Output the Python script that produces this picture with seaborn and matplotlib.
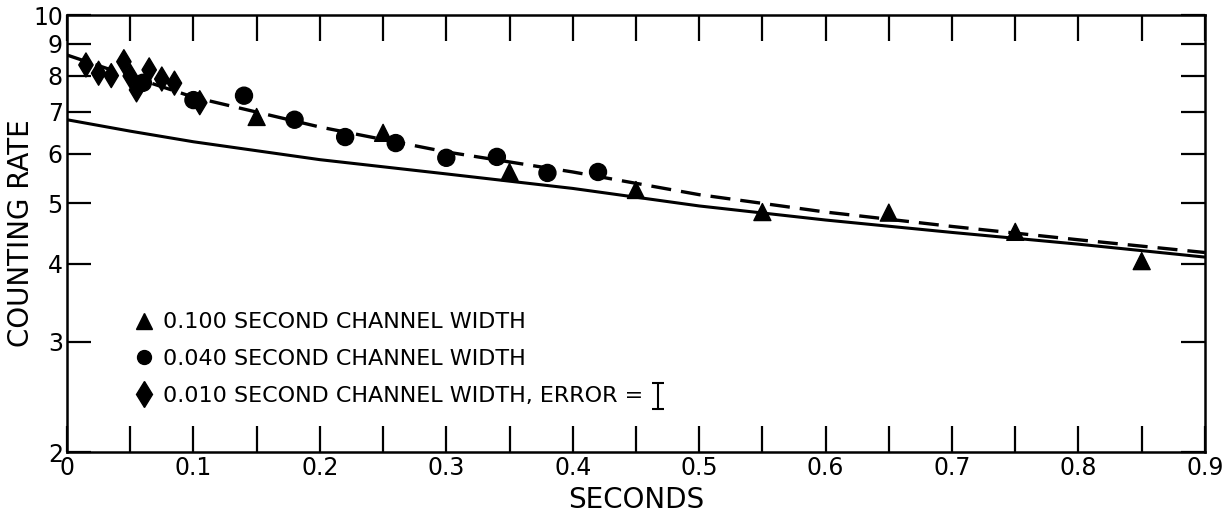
import numpy as np
import pandas as pd
import matplotlib
matplotlib.use("Agg")
import matplotlib.pyplot as plt
from matplotlib.lines import Line2D
from matplotlib.ticker import FixedLocator, NullLocator, FixedFormatter
import seaborn as sns

# ---- data ----
tri_x = [0.15, 0.25, 0.35, 0.45, 0.55, 0.65, 0.75, 0.85]
tri_y = [6.87, 6.48, 5.61, 5.25, 4.84, 4.83, 4.50, 4.04]

circ_x = [0.06, 0.10, 0.14, 0.18, 0.22, 0.26, 0.30, 0.34, 0.38, 0.42]
circ_y = [7.79, 7.31, 7.43, 6.80, 6.38, 6.24, 5.91, 5.93, 5.59, 5.61]

dia_x = [0.015, 0.025, 0.035, 0.045, 0.050, 0.055, 0.065, 0.075, 0.085, 0.105]
dia_y = [8.32, 8.07, 8.00, 8.42, 7.99, 7.59, 8.17, 7.90, 7.78, 7.24]

curve_x = [0.0, 0.05, 0.1, 0.2, 0.3, 0.4, 0.5, 0.6, 0.7, 0.8, 0.9]
dashed_y = [8.63, 7.98, 7.39, 6.62, 6.04, 5.61, 5.16, 4.84, 4.59, 4.37, 4.17]
solid_y = [6.80, 6.52, 6.27, 5.87, 5.57, 5.28, 4.95, 4.70, 4.49, 4.30, 4.10]

labels = ["0.100 SECOND CHANNEL WIDTH",
          "0.040 SECOND CHANNEL WIDTH",
          "0.010 SECOND CHANNEL WIDTH, ERROR ="]

xticks = [0.0, 0.1, 0.2, 0.3, 0.4, 0.5, 0.6, 0.7, 0.8, 0.9]
xticklabels = ["0", "0.1", "0.2", "0.3", "0.4", "0.5", "0.6", "0.7", "0.8", "0.9"]
yticks = [2, 3, 4, 5, 6, 7, 8, 9, 10]

points = pd.concat([
    pd.DataFrame({"t": tri_x, "rate": tri_y, "width": labels[0]}),
    pd.DataFrame({"t": circ_x, "rate": circ_y, "width": labels[1]}),
    pd.DataFrame({"t": dia_x, "rate": dia_y, "width": labels[2]}),
])
curves = pd.concat([
    pd.DataFrame({"t": curve_x, "rate": dashed_y, "fit": "dashed"}),
    pd.DataFrame({"t": curve_x, "rate": solid_y, "fit": "solid"}),
])

sns.set_style("ticks")
plt.rcParams["font.family"] = ["DejaVu Sans"]
plt.rcParams["text.color"] = "black"
plt.rcParams["axes.labelcolor"] = "black"
plt.rcParams["xtick.color"] = "black"
plt.rcParams["ytick.color"] = "black"
plt.rcParams["axes.edgecolor"] = "black"

fig = plt.figure(figsize=(12.27, 5.18), dpi=100)
ax = fig.add_axes([0.0546, 0.1274, 0.9274, 0.8436])

sns.lineplot(data=curves[curves.fit == "solid"], x="t", y="rate", color="black",
             lw=2.2, ax=ax)
sns.lineplot(data=curves[curves.fit == "dashed"], x="t", y="rate", color="black",
             lw=2.4, ax=ax, linestyle=(0, (6, 3)))

sns.scatterplot(data=points, x="t", y="rate", style="width",
                markers={labels[0]: "^", labels[1]: "o", labels[2]: "d"},
                color="black", edgecolor="black", s=150, legend=False, ax=ax, zorder=3)

ax.set_yscale("log")
ax.set_xlim(0, 0.9)
ax.set_ylim(2, 10)
ax.yaxis.set_major_locator(FixedLocator(yticks))
ax.yaxis.set_major_formatter(FixedFormatter([str(v) for v in yticks]))
ax.yaxis.set_minor_locator(NullLocator())
ax.xaxis.set_major_locator(FixedLocator(xticks))
ax.xaxis.set_major_formatter(FixedFormatter(xticklabels))
ax.xaxis.set_minor_locator(FixedLocator(np.arange(0.05, 0.9, 0.1)))

ax.tick_params(which="both", direction="in", top=True, right=True,
               width=1.6, labelsize=17, pad=3)
ax.tick_params(axis="x", which="both", length=19)
ax.tick_params(axis="y", which="both", length=17)
for sp in ax.spines.values():
    sp.set_linewidth(1.8)

ax.set_xlabel("SECONDS", fontsize=20)
ax.set_ylabel("COUNTING RATE", fontsize=20)
ax.xaxis.set_label_coords(0.5, -0.078)
ax.yaxis.set_label_coords(-0.028, 0.5)

handles = [Line2D([], [], ls="", marker="^", color="black", markersize=12),
           Line2D([], [], ls="", marker="o", color="black", markersize=10),
           Line2D([], [], ls="", marker="d", color="black", markersize=13)]
leg = ax.legend(handles, labels, loc="lower left", bbox_to_anchor=(0.04, 0.06),
                frameon=False, fontsize=16, handletextpad=0.35, labelspacing=0.75,
                handlelength=1.0)

# error-bar glyph right after "ERROR ="
fig.canvas.draw()
bb = leg.get_texts()[2].get_window_extent().transformed(ax.transAxes.inverted())
ax.errorbar([bb.x1 + 0.013], [(bb.y0 + bb.y1) / 2], yerr=[[0.03], [0.03]], fmt="none",
            ecolor="black", elinewidth=1.5, capsize=4, capthick=1.5,
            transform=ax.transAxes)

fig.savefig("out.png", dpi=100)
